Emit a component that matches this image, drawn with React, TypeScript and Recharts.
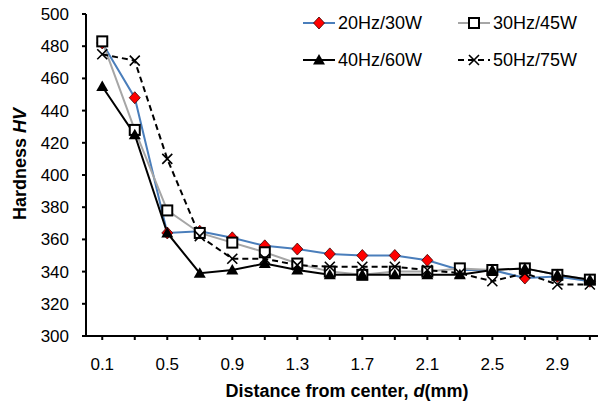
import React from "react";
import { LineChart, Line, XAxis, YAxis, Label } from "recharts";

const FONT = "'Liberation Sans', Arial, sans-serif";

const distances = [0.1, 0.3, 0.5, 0.7, 0.9, 1.1, 1.3, 1.5, 1.7, 1.9, 2.1, 2.3, 2.5, 2.7, 2.9, 3.1];
const hv20 = [482, 448, 364, 365, 361, 356, 354, 351, 350, 350, 347, 341, 341, 336, 337, 334];
const hv30 = [483, 428, 378, 364, 358, 352, 345, 340, 338, 340, 340, 342, 341, 342, 338, 335];
const hv40 = [455, 425, 364, 339, 341, 345, 341, 338, 338, 338, 338, 338, 341, 342, 338, 335];
const hv50 = [475, 471, 410, 362, 348, 348, 344, 343, 343, 343, 341, 339, 334, 339, 332, 332];
const yTicks = [300, 320, 340, 360, 380, 400, 420, 440, 460, 480, 500];

const data = distances.map((d, i) => ({ d, a: hv20[i], b: hv30[i], c: hv40[i], e: hv50[i] }));

const Diamond = ({ cx, cy }: any) => (
   <path d={`M${cx},${cy - 6}L${cx + 5.5},${cy}L${cx},${cy + 6}L${cx - 5.5},${cy}Z`} fill="#ff0000" stroke="#3a0000" strokeWidth={0.8} />
);
const Square = ({ cx, cy }: any) => (
   <rect x={cx - 5} y={cy - 5} width={10} height={10} fill="#fff" stroke="#000" strokeWidth={2} />
);
const Triangle = ({ cx, cy }: any) => (
   <path d={`M${cx},${cy - 6}L${cx + 6},${cy + 4.5}L${cx - 6},${cy + 4.5}Z`} fill="#000" />
);
const Cross = ({ cx, cy }: any) => (
   <path d={`M${cx - 5},${cy - 5}L${cx + 5},${cy + 5}M${cx + 5},${cy - 5}L${cx - 5},${cy + 5}`} stroke="#000" strokeWidth={1.6} />
);

const series = [
   { key: "a", name: "20Hz/30W", color: "#4a7ebb", dash: undefined, Marker: Diamond },
   { key: "b", name: "30Hz/45W", color: "#a6a6a6", dash: undefined, Marker: Square },
   { key: "c", name: "40Hz/60W", color: "#000000", dash: undefined, Marker: Triangle },
   { key: "e", name: "50Hz/75W", color: "#000000", dash: "6 4", Marker: Cross },
];

const legendPos = [
   { left: 303, top: 23 },
   { left: 458, top: 23 },
   { left: 303, top: 60 },
   { left: 458, top: 60 },
];

function ChartLegend() {
   return (
      <div style={{ position: "absolute", left: 0, top: 0, width: 598, height: 80, pointerEvents: "none" }}>
         {series.map((s, i) => (
            <div key={s.key} style={{ position: "absolute", left: legendPos[i].left, top: legendPos[i].top - 11, height: 22, display: "flex", alignItems: "center", fontFamily: FONT, fontSize: 18, color: "#000", whiteSpace: "nowrap" }}>
               <svg width={32} height={16}>
                  <line x1={0} y1={8} x2={32} y2={8} stroke={s.color} strokeWidth={2} strokeDasharray={s.dash} />
                  <s.Marker cx={16} cy={8} />
               </svg>
               <span style={{ marginLeft: 3 }}>{s.name}</span>
            </div>
         ))}
      </div>
   );
}

export default function App() {
   return (
      <div style={{ position: "absolute", left: 0, top: 0, width: 598, height: 405, background: "#fff" }}>
         <LineChart width={598} height={405} data={data} margin={{ top: 14, right: 0, bottom: 0, left: 0 }}>
            <XAxis
               dataKey="d"
               type="number"
               domain={[0, 3.15]}
               allowDataOverflow
               ticks={distances}
               interval={0}
               tickFormatter={(v: number, i: number) => (i % 2 === 0 ? v.toFixed(1) : "")}
               height={69}
               tickSize={4}
               tickMargin={18}
               axisLine={{ stroke: "#000", strokeWidth: 2 }}
               tickLine={{ stroke: "#000", strokeWidth: 2 }}
               tick={{ fill: "#000", fontSize: 17, fontFamily: FONT }}
            >
               <Label
                  content={() => (
                     <text x={347} y={391} textAnchor="middle" dominantBaseline="central" fontSize={18} fontWeight="bold" fontFamily={FONT} fill="#000">
                        Distance from center, <tspan fontStyle="italic">d</tspan>(mm)
                     </text>
                  )}
               />
            </XAxis>
            <YAxis
               domain={[300, 500]}
               ticks={yTicks}
               interval={0}
               width={86}
               tickSize={4}
               tickMargin={13}
               axisLine={{ stroke: "#000", strokeWidth: 2 }}
               tickLine={{ stroke: "#000", strokeWidth: 2 }}
               tick={{ fill: "#000", fontSize: 17, fontFamily: FONT }}
            >
               <Label
                  content={() => (
                     <text x={20} y={164} transform="rotate(-90 20 164)" textAnchor="middle" dominantBaseline="central" fontSize={18} fontWeight="bold" fontFamily={FONT} fill="#000">
                        Hardness <tspan fontStyle="italic">HV</tspan>
                     </text>
                  )}
               />
            </YAxis>
            {series.map((s) => (
               <Line
                  key={s.key}
                  dataKey={s.key}
                  name={s.name}
                  stroke={s.color}
                  strokeWidth={2}
                  strokeDasharray={s.dash}
                  dot={(p: any) => <s.Marker key={`${s.key}-${p.index}`} cx={p.cx} cy={p.cy} />}
                  isAnimationActive={false}
               />
            ))}
         </LineChart>
         <ChartLegend />
      </div>
   );
}
